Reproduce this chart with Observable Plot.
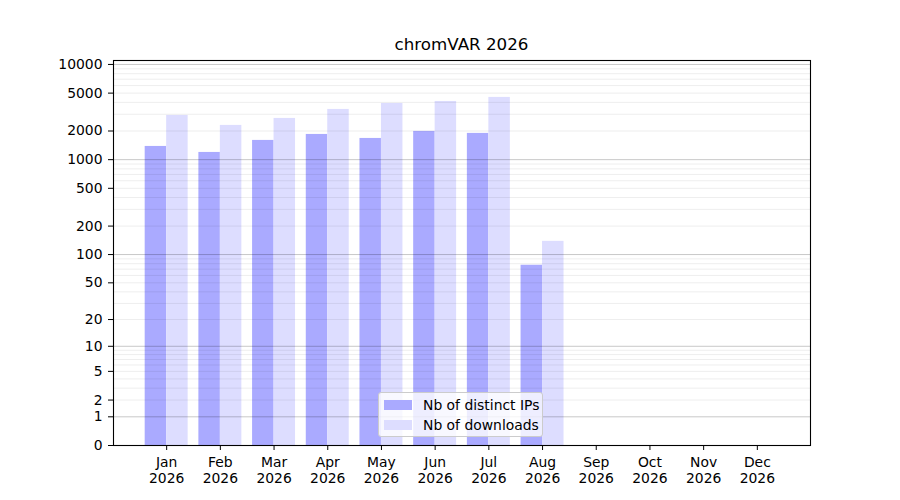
<!DOCTYPE html>
<html>
<head>
<meta charset="utf-8">
<script src="https://cdn.jsdelivr.net/npm/d3@7"></script>
<script src="https://cdn.jsdelivr.net/npm/@observablehq/plot@0.6"></script>
<style>
  html, body { margin: 0; padding: 0; background: #fff; }
  #wrap { position: relative; width: 900px; height: 500px; font-family: "DejaVu Sans", sans-serif; }
  #title { position: absolute; left: 113px; width: 697px; top: 34px; text-align: center; font-size: 16.7px; color: #000; }
  #legend { position: absolute; left: 378px; top: 392px; width: 165px; height: 45px; box-sizing: border-box;
            background: rgba(255,255,255,0.8); border: 1px solid #cccccc; border-radius: 3px; font-size: 13.9px; }
  .row { position: absolute; left: 5px; height: 16px; display: flex; align-items: center; white-space: nowrap; }
  .sw { width: 28px; height: 10px; margin-right: 11px; }
</style>
</head>
<body>
<div id="wrap">
  <div id="chart"></div>
  <div id="title"></div>
  <div id="legend"></div>
</div>
<script>
const title = "chromVAR 2026";
const months = ["Jan", "Feb", "Mar", "Apr", "May", "Jun", "Jul", "Aug", "Sep", "Oct", "Nov", "Dec"];
const year = "2026";
const seriesNames = ["Nb of distinct IPs", "Nb of downloads"];
const seriesColors = ["#aaaaff", "#ddddff"];
const ips = [1377, 1191, 1593, 1841, 1671, 1981, 1888, 77, 0, 0, 0, 0];
const downloads = [2915, 2290, 2711, 3371, 3896, 4086, 4508, 138, 0, 0, 0, 0];
const yTicks = [0, 1, 2, 5, 10, 20, 50, 100, 200, 500, 1000, 2000, 5000, 10000];
const majorGrid = [1, 10, 100, 1000, 10000];
const minorGrid = [1, 10, 100, 1000].flatMap(b => [2, 3, 4, 5, 6, 7, 8, 9].map(k => k * b));

const ipData = ips.map((v, i) => ({i, v}));
const dlData = downloads.map((v, i) => ({i, v}));
const half = 0.4;

const plot = Plot.plot({
  width: 900,
  height: 500,
  marginLeft: 113,
  marginRight: 90,
  marginTop: 60,
  marginBottom: 55,
  style: {fontFamily: "DejaVu Sans, sans-serif", fontSize: "13.9px", color: "#000", background: "#fff"},
  x: {type: "linear", domain: [-0.99, 11.99], label: null},
  y: {type: "symlog", constant: 1, domain: [0, 11000], label: null},
  marks: [
    Plot.rectY(ipData, {x1: d => d.i - half, x2: d => d.i, y: "v", fill: seriesColors[0]}),
    Plot.rectY(dlData, {x1: d => d.i, x2: d => d.i + half, y: "v", fill: seriesColors[1]}),
    Plot.ruleY(minorGrid, {stroke: "#000", strokeOpacity: 0.07, strokeWidth: 1}),
    Plot.ruleY(majorGrid, {stroke: "#000", strokeOpacity: 0.22, strokeWidth: 1}),
    Plot.axisY({ticks: yTicks, tickFormat: d => String(d), tickSize: 5, tickPadding: 6, label: null, stroke: "#000"}),
    Plot.axisX({ticks: d3.range(months.length), tickFormat: i => months[i] + "\n" + year, tickSize: 5, tickPadding: 6, label: null, stroke: "#000", lineHeight: 1.1}),
    Plot.frame({stroke: "#000", strokeWidth: 1.1})
  ]
});
document.getElementById("chart").appendChild(plot);
document.getElementById("title").textContent = title;
const legend = document.getElementById("legend");
seriesNames.forEach((name, k) => {
  const row = document.createElement("div");
  row.className = "row";
  row.style.top = (4 + k * 20) + "px";
  const sw = document.createElement("div");
  sw.className = "sw";
  sw.style.background = seriesColors[k];
  const t = document.createElement("span");
  t.textContent = name;
  row.appendChild(sw);
  row.appendChild(t);
  legend.appendChild(row);
});
</script>
</body>
</html>
